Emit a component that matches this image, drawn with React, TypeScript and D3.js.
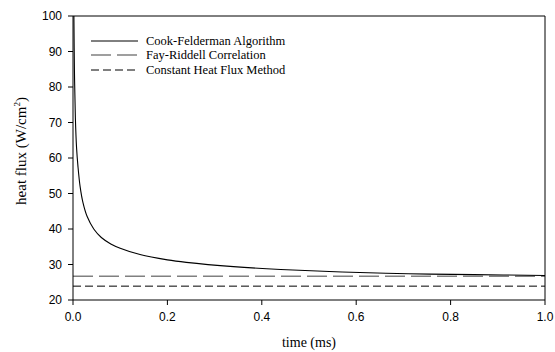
import React from "react";
import * as d3 from "d3";

const cookTime = [0.0019, 0.003, 0.005, 0.0075, 0.0106, 0.015, 0.021, 0.03, 0.044, 0.06, 0.08, 0.1, 0.142, 0.2, 0.24, 0.34, 0.44, 0.57, 0.71, 0.85, 1.0];
const cookFlux = [100, 85, 71.5, 63, 57.5, 52, 47.5, 43.5, 40, 37.6, 35.8, 34.6, 32.8, 31.3, 30.6, 29.4, 28.6, 27.9, 27.4, 27.15, 26.9];
const fayRiddellFlux = 26.7;
const constantFlux = 23.9;
const xTicks = [0, 0.2, 0.4, 0.6, 0.8, 1.0];
const yTicks = [20, 30, 40, 50, 60, 70, 80, 90, 100];
const legendLabels = ["Cook-Felderman Algorithm", "Fay-Riddell Correlation", "Constant Heat Flux Method"];

export default function App() {
  const W = 555, H = 352;
  const L = 73, R = 545, T = 16, B = 300;
  const x = d3.scaleLinear().domain([0, 1]).range([L, R]);
  const y = d3.scaleLinear().domain([20, 100]).range([B, T]);
  const line = d3
    .line<number>()
    .x((_, i) => x(cookTime[i]))
    .y((d) => y(d))
    .curve(d3.curveCatmullRom.alpha(0.5));
  const sans = "'Liberation Sans', Arial, sans-serif";
  const serif = "'Liberation Serif', 'Times New Roman', serif";
  const styles = [
    { stroke: "#000", dash: "none", width: 1 },
    { stroke: "#808080", dash: "20 6", width: 1.6 },
    { stroke: "#000", dash: "8 4", width: 1 },
  ];
  const legendY = [41, 55, 70];
  return (
    <svg width={W} height={H} style={{ position: "absolute", left: 0, top: 0, background: "#fff" }}>
      <rect x={0} y={0} width={W} height={H} fill="#fff" />
      <defs>
        <clipPath id="plot">
          <rect x={L} y={T} width={R - L} height={B - T} />
        </clipPath>
      </defs>
      <line x1={x(0)} x2={x(1)} y1={y(fayRiddellFlux)} y2={y(fayRiddellFlux)} stroke={styles[1].stroke} strokeWidth={styles[1].width} strokeDasharray={styles[1].dash} />
      <line x1={x(0)} x2={x(1)} y1={y(constantFlux)} y2={y(constantFlux)} stroke={styles[2].stroke} strokeWidth={styles[2].width} strokeDasharray={styles[2].dash} />
      <path d={line(cookFlux) || ""} fill="none" stroke="#000" strokeWidth={1.1} clipPath="url(#plot)" />
      <line x1={L} x2={R} y1={T} y2={T} stroke="#000" strokeWidth={1} />
      <line x1={R} x2={R} y1={T} y2={B} stroke="#000" strokeWidth={1} />
      <line x1={L} x2={R} y1={B} y2={B} stroke="#000" strokeWidth={1} />
      <line x1={L} x2={L} y1={T} y2={B} stroke="#000" strokeWidth={1} />
      {yTicks.map((t) => (
        <g key={"y" + t}>
          <line x1={L - 5} x2={L} y1={y(t)} y2={y(t)} stroke="#000" />
          <text x={L - 11} y={y(t)} dy="0.36em" textAnchor="end" fontFamily={sans} fontSize={12}>
            {t}
          </text>
        </g>
      ))}
      {xTicks.map((t) => (
        <g key={"x" + t}>
          <line x1={x(t)} x2={x(t)} y1={B} y2={B + 5} stroke="#000" />
          <text x={x(t)} y={B + 21} textAnchor="middle" fontFamily={sans} fontSize={12}>
            {t.toFixed(1)}
          </text>
        </g>
      ))}
      <text x={(L + R) / 2} y={347} textAnchor="middle" fontFamily={serif} fontSize={14}>
        time (ms)
      </text>
      <text transform={`translate(26,151) rotate(-90)`} textAnchor="middle" fontFamily={serif} fontSize={15}>
        heat flux (W/cm
        <tspan fontSize={9} dy={-6}>2</tspan>
        <tspan dy={6}>)</tspan>
      </text>
      {legendLabels.map((lab, i) => (
        <g key={lab}>
          <line x1={91} x2={138} y1={legendY[i]} y2={legendY[i]} stroke={styles[i].stroke} strokeWidth={styles[i].width} strokeDasharray={styles[i].dash} />
          <text x={146} y={legendY[i]} dy="0.35em" fontFamily={serif} fontSize={12.5}>
            {lab}
          </text>
        </g>
      ))}
    </svg>
  );
}
